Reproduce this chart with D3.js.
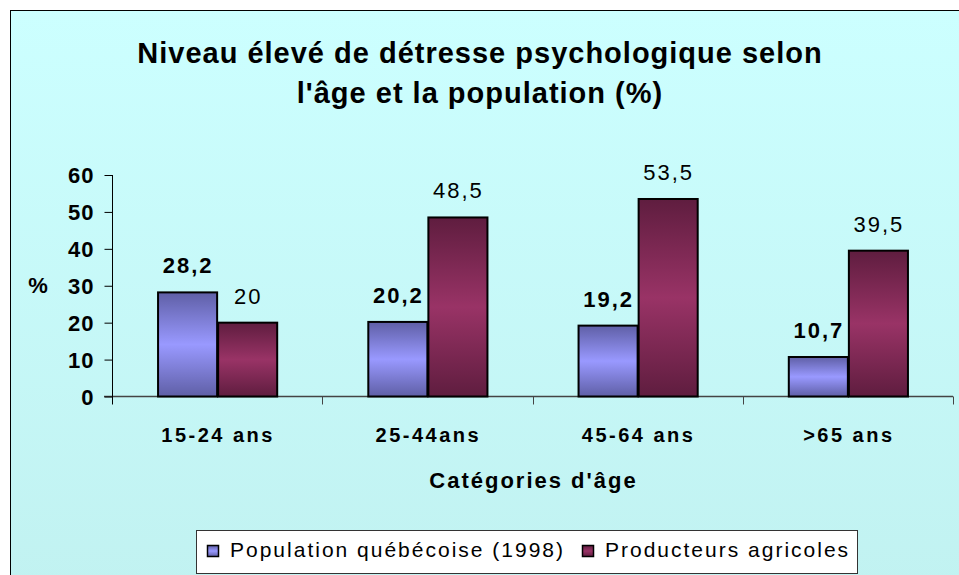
<!DOCTYPE html>
<html>
<head>
<meta charset="utf-8">
<script src="https://cdn.jsdelivr.net/npm/d3@7"></script>
<style>
  body { margin: 0; background: #fff; }
  text { font-family: "Liberation Sans", Arial, sans-serif; fill: #000; }
</style>
</head>
<body>
<svg></svg>
<script>
// data
var categories = ['15-24 ans', '25-44ans', '45-64 ans', '>65 ans'];
var seriesNames = ['Population québécoise (1998)', 'Producteurs agricoles'];
var population = [28.2, 20.2, 19.2, 10.7];
var producteurs = [20, 48.5, 53.5, 39.5];
var yTicks = [0, 10, 20, 30, 40, 50, 60];

var width = 959;
var height = 575;
var padding = { top: 175, right: 6, bottom: 178, left: 112 };

var svg = d3.select('svg')
    .attr('width', width)
    .attr('height', height);

var defs = svg.append('defs');

// background gradient
var bg = defs.append('linearGradient')
    .attr('id', 'bg').attr('x1', 0).attr('y1', 0).attr('x2', 0).attr('y2', 1);
bg.append('stop').attr('offset', '0%').attr('stop-color', '#ccffff');
bg.append('stop').attr('offset', '100%').attr('stop-color', '#c1f2f1');

// bar gradients: dark at top and bottom, light in middle
function barGradient(id, dark, light) {
  var g = defs.append('linearGradient')
      .attr('id', id).attr('x1', 0).attr('y1', 0).attr('x2', 0).attr('y2', 1);
  g.append('stop').attr('offset', '0%').attr('stop-color', dark);
  g.append('stop').attr('offset', '50%').attr('stop-color', light);
  g.append('stop').attr('offset', '100%').attr('stop-color', dark);
}
barGradient('g0', '#5f5fa6', '#9999ff');
barGradient('g1', '#5f1d3f', '#993366');

// frame
svg.append('rect')
    .attr('x', 10.5).attr('y', 10.5)
    .attr('width', 960).attr('height', 580)
    .attr('fill', 'url(#bg)')
    .attr('stroke', '#000')
    .attr('stroke-width', 1);

// title
var title = svg.append('text')
    .attr('text-anchor', 'middle')
    .style('font-size', '29px')
    .style('font-weight', 'bold')
    .style('letter-spacing', '1px');
title.append('tspan').attr('x', 480).attr('y', 63).text('Niveau élevé de détresse psychologique selon');
title.append('tspan').attr('x', 480).attr('y', 103).text("l'âge et la population (%)");

var yScale = d3.scaleLinear()
    .domain([0, 60])
    .range([height - padding.bottom - 0.5, padding.top]);

var x0 = d3.scaleBand()
    .domain(categories)
    .range([padding.left, width - padding.right])
    .padding(0);

var x1 = d3.scaleBand()
    .domain(seriesNames)
    .range([0, x0.bandwidth()])
    .paddingInner(0)
    .paddingOuter(0.75);

var y0 = yScale(0);

// x axis line + ticks
svg.append('line')
    .attr('x1', padding.left - 8).attr('x2', width - padding.right)
    .attr('y1', y0).attr('y2', y0)
    .attr('stroke', '#444').attr('stroke-width', 1.5);

svg.selectAll('.xtick')
    .data(categories)
  .enter().append('line')
    .attr('class', 'xtick')
    .attr('x1', d => Math.round(x0(d) + x0.bandwidth()) + 0.5)
    .attr('x2', d => Math.round(x0(d) + x0.bandwidth()) + 0.5)
    .attr('y1', y0).attr('y2', y0 + 8)
    .attr('stroke', '#444');

// y axis
var yAxis = d3.axisLeft(yScale)
    .tickValues(yTicks)
    .tickSize(8)
    .tickPadding(10);

var yg = svg.append('g')
    .attr('transform', 'translate(' + (padding.left + 0.5) + ',0)')
    .call(yAxis);
yg.select('.domain').remove();
yg.selectAll('.tick line').attr('stroke', '#000');
yg.selectAll('text')
    .style('font-family', '"Liberation Sans", Arial, sans-serif')
    .style('font-size', '22px')
    .style('font-weight', 'bold')
    .style('letter-spacing', '1px')
    .attr('dy', '0.36em');
yg.append('line')
    .attr('x1', 0).attr('x2', 0)
    .attr('y1', padding.top).attr('y2', y0 + 8)
    .attr('stroke', '#000');

svg.append('text')
    .attr('x', 38).attr('y', 293)
    .attr('text-anchor', 'middle')
    .style('font-size', '22px')
    .style('font-weight', 'bold')
    .text('%');

// bars
var rows = categories.map((c, i) => ({ cat: c, vals: [population[i], producteurs[i]] }));

var groups = svg.selectAll('.grp')
    .data(rows)
  .enter().append('g')
    .attr('class', 'grp')
    .attr('transform', d => 'translate(' + x0(d.cat) + ',0)');

groups.selectAll('rect')
    .data(d => d.vals.map((v, j) => ({ v: v, j: j })))
  .enter().append('rect')
    .attr('x', d => x1(seriesNames[d.j]) + 1)
    .attr('y', d => yScale(d.v))
    .attr('width', x1.bandwidth() - 1)
    .attr('height', d => y0 - yScale(d.v))
    .attr('fill', d => 'url(#g' + d.j + ')')
    .attr('stroke', '#000')
    .attr('stroke-width', 2);

// value labels
groups.selectAll('.lbl')
    .data(d => d.vals.map((v, j) => ({ v: v, j: j })))
  .enter().append('text')
    .attr('class', 'lbl')
    .attr('x', d => x1(seriesNames[d.j]) + x1.bandwidth() / 2 + 1)
    .attr('y', d => yScale(d.v) - 19)
    .attr('text-anchor', 'middle')
    .style('font-size', '22px')
    .style('letter-spacing', '2px')
    .style('font-weight', d => d.j === 0 ? 'bold' : 'normal')
    .text(d => String(d.v).replace('.', ','));

// category labels
svg.selectAll('.cat')
    .data(categories)
  .enter().append('text')
    .attr('class', 'cat')
    .attr('x', d => x0(d) + x0.bandwidth() / 2 + 1)
    .attr('y', 442)
    .attr('text-anchor', 'middle')
    .style('font-size', '20px')
    .style('font-weight', 'bold')
    .style('letter-spacing', '2.5px')
    .text(d => d);

// axis title
svg.append('text')
    .attr('x', (padding.left + width - padding.right) / 2 + 1)
    .attr('y', 488)
    .attr('text-anchor', 'middle')
    .style('font-size', '22px')
    .style('font-weight', 'bold')
    .style('letter-spacing', '2px')
    .text("Catégories d'âge");

// legend
var legend = svg.append('g');
legend.append('rect')
    .attr('x', 196.5).attr('y', 530.5)
    .attr('width', 661).attr('height', 43)
    .attr('fill', '#fff')
    .attr('stroke', '#333');

var legendX = [206, 581];
seriesNames.forEach(function(name, j) {
  legend.append('rect')
      .attr('x', legendX[j] + 1.5).attr('y', 545.5)
      .attr('width', 11).attr('height', 11)
      .attr('fill', 'url(#g' + j + ')')
      .attr('stroke', '#000')
      .attr('stroke-width', 1.5);
  legend.append('text')
      .attr('x', legendX[j] + 24)
      .attr('y', 557)
      .style('font-size', '21px')
      .style('letter-spacing', '2px')
      .text(name);
});
</script>
</body>
</html>
